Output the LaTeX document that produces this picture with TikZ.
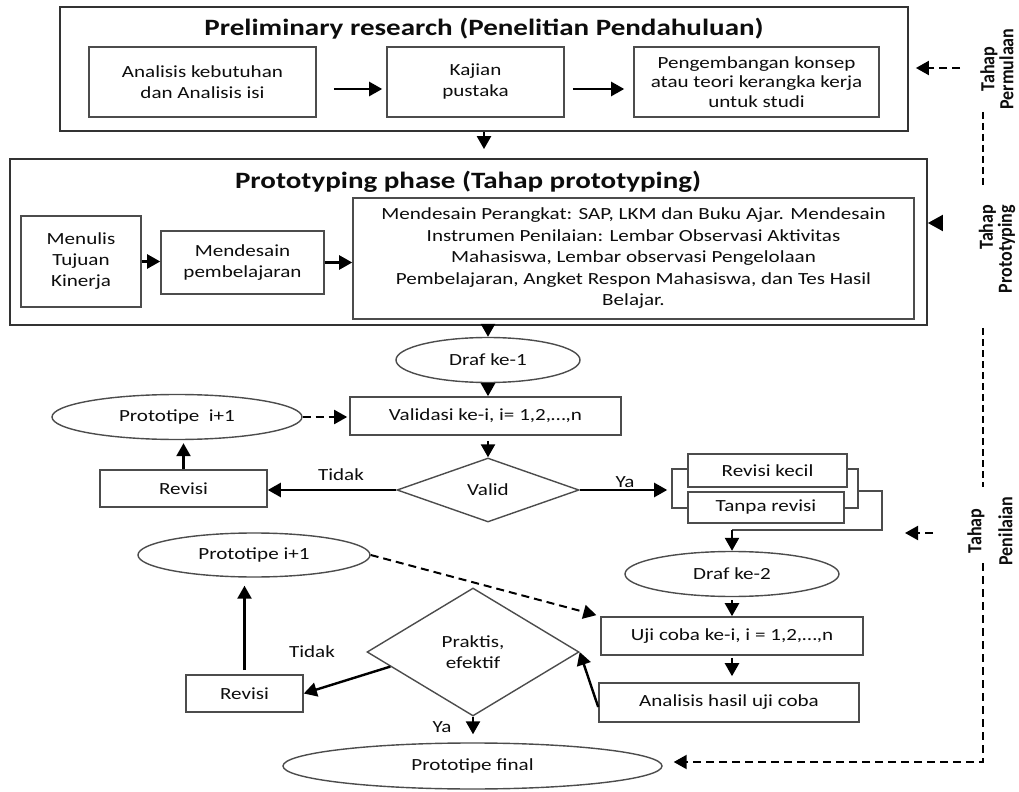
\documentclass[tikz,border=0pt]{standalone}
\usepackage{fontspec}
\setmainfont{Carlito}[FakeStretch=1.24]
\newfontfamily\sidefont{Carlito}[FakeStretch=0.9]
\usepackage{tikz}
\usetikzlibrary{arrows.meta,shapes.geometric}

\tikzset{
  every node/.style={font=\fontsize{8.5}{10.5}\selectfont, text=black!95},
  phase/.style={draw=black!80, line width=0.9pt, inner sep=0pt},
  title/.style={font=\fontsize{11.7}{13}\selectfont\bfseries},
  box/.style={draw=black!70, line width=0.8pt, fill=white, inner sep=0pt, align=center},
  oval/.style={ellipse, draw=black!70, line width=0.7pt, inner sep=0pt},
  decide/.style={diamond, draw=black!70, line width=0.7pt, inner sep=0pt, align=center},
  arr/.style={-{Triangle[length=6.5pt,width=7pt]}, line width=1.2pt},
  dasharr/.style={arr, dash pattern=on 4pt off 2.5pt, line width=1pt},
  sideline/.style={dash pattern=on 3.5pt off 2pt, line width=1pt},
  side/.style={rotate=90, align=center, font=\sidefont\bfseries\fontsize{10}{9.5}\selectfont}
}

\begin{document}
\begin{tikzpicture}[x=0.5pt,y=-0.5pt]

\useasboundingbox (0,0) rectangle (1019,792);

% preliminary research
\node[phase, minimum width=424pt, minimum height=62pt] (prelim) at (484,69) {};
\node[title] (prelimT) at (484,29) {Preliminary research (Penelitian Pendahuluan)};
\node[box, minimum width=113.5pt, minimum height=35pt] (analisis) at (202.5,82) {Analisis kebutuhan\\dan Analisis isi};
\node[box, minimum width=88.5pt, minimum height=35pt] (kajian) at (475.5,82) {Kajian\\pustaka};
\node[box, minimum width=122.5pt, minimum height=35pt, font=\fontsize{8.5}{9.75}\selectfont] (konsep) at (756.5,82) {Pengembangan konsep\\atau teori kerangka kerja\\untuk studi};

\draw[arr] ([shift={(17,7)}]analisis.east) -- ([shift={(-4,7)}]kajian.west);
\draw[arr] ([shift={(8,7)}]kajian.east) -- ([shift={(-9,7)}]konsep.west);

% prototyping phase
\node[phase, minimum width=458.5pt, minimum height=83pt] (protophase) at (468.5,242) {};
\node[title] (protoT) at (468,182) {Prototyping phase (Tahap prototyping)};
\node[box, minimum width=60pt, minimum height=45.5pt] (tujuan) at (81,261.5) {Menulis\\Tujuan\\Kinerja};
\node[box, minimum width=81.5pt, minimum height=31.5pt] (desain) at (242.5,262.5) {Mendesain\\pembelajaran};
\node[box, minimum width=280.5pt, minimum height=60.5pt, font=\fontsize{8.5}{10.75}\selectfont] (perangkat) at (633.5,258.5)
  {Mendesain Perangkat: SAP, LKM dan Buku Ajar. Mendesain\\Instrumen Penilaian: Lembar Observasi Aktivitas\\Mahasiswa, Lembar observasi Pengelolaan\\Pembelajaran, Angket Respon Mahasiswa, dan Tes Hasil\\Belajar.};

\draw[arr, shorten >=4.5pt] (prelim.south) -- (prelim.south |- protophase.north);
\draw[arr] (tujuan.east) -- (tujuan.east -| desain.west);
\draw[arr] (desain.east) -- (desain.east -| perangkat.west);

% validasi
\node[oval, minimum width=92pt, minimum height=22.5pt] (draf1) at (488,360) {Draf ke-1};
\node[box, minimum width=135.5pt, minimum height=19pt] (validasi) at (485.5,416) {Validasi ke-i, i= 1,2,…,n};
\node[decide, minimum width=91pt, minimum height=32pt] (valid) at (488,490) {Valid};
\node[box, minimum width=83.5pt, minimum height=18.5pt] (revisi1) at (183.5,488.5) {Revisi};
\node[oval, minimum width=125pt, minimum height=22.5pt] (next1) at (177,417) {Prototipe~~i+1};
\node[box, minimum width=93pt, minimum height=19.5pt] (stack) at (765,488.5) {};
\node[box, minimum width=79.5pt, minimum height=16.5pt] (kecil) at (767.5,470.5) {Revisi kecil};
\node[box, minimum width=78pt, minimum height=15.5pt] (tanpa) at (766,507.5) {Tanpa revisi};
\coordinate (stackB) at (882,530);

\draw[arr] (draf1.north |- protophase.south) -- (draf1.north);
\draw[arr] (draf1.south) -- (draf1.south |- validasi.north);
\draw[arr, shorten <=2.5pt] (valid.north |- validasi.south) -- (valid.north);
\draw[arr] (valid.west) -- (valid.west -| revisi1.east);
\node (tidak1) at (341,475) {Tidak};
\draw[arr, shorten >=1.5pt] (revisi1.north) -- (revisi1.north |- next1.south);
\draw[dasharr, shorten >=1pt] (next1.east) -- (next1.east -| validasi.west);
\draw[arr, shorten >=2pt] (valid.east) -- (valid.east -| stack.west);
\node (ya1) at (625,482) {Ya};
\draw[draw=black!70, line width=0.8pt] (stack.north east |- tanpa.north) -| (stackB) -- (stackB -| 732,0);

% uji coba
\node[oval, minimum width=107pt, minimum height=22.5pt] (draf2) at (732,574) {Draf ke-2};
\node[box, minimum width=131pt, minimum height=19pt] (uji) at (732,636) {Uji coba ke-i, i = 1,2,…,n};
\node[box, minimum width=130pt, minimum height=19.5pt] (hasil) at (729,702.5) {Analisis hasil uji coba};
\node[decide, minimum width=106pt, minimum height=64pt] (praktis) at (473,652) {Praktis,\\efektif};
\node[box, minimum width=58.5pt, minimum height=18.5pt] (revisi2) at (244.5,693.5) {Revisi};
\node[oval, minimum width=116pt, minimum height=22pt] (next2) at (254,555) {Prototipe i+1};
\node[oval, minimum width=189.5pt, minimum height=23pt] (final) at (472.5,766) {Prototipe final};

\draw[arr] (stackB -| draf2.north) -- (draf2.north);
\draw[arr, shorten <=1.5pt] (draf2.south) -- (draf2.south |- uji.north);
\draw[arr, shorten <=1pt, shorten >=3pt] (uji.south) -- (uji.south |- hasil.north);
\draw[arr] ([shift={(0,4.5)}]hasil.west) -- (praktis.east);
\draw[arr] (praktis.190) -- (revisi2.east);
\node (tidak2) at (312,652) {Tidak};
\draw[arr, shorten <=2pt, shorten >=4pt] (revisi2.north) -- (revisi2.north |- next2.south);
\draw[dasharr, shorten >=2pt] (next2.east) -- (uji.north west);
\draw[arr, shorten >=4pt] (praktis.south) -- (praktis.south |- final.north);
\node (ya2) at (442,727) {Ya};

% tahap di sisi kanan
\node[side] (permulaan) at (997,69) {Tahap\\Permulaan};
\node[side, align=right] (prototyping) at (997,249) {Tahap\\Prototyping};
\node[side] (penilaian) at (990,531) {Tahap\\[6pt]Penilaian};

\coordinate (perm) at (960,68);
\coordinate (protoarr) at (943,223);
\coordinate (nilai) at (933,533);
\coordinate (nilaitip) at (905,533);
\coordinate (line1a) at (983,112);
\coordinate (line1b) at (983,185);
\coordinate (line2a) at (983,328);
\coordinate (line2b) at (983,487);
\coordinate (line3a) at (983,563);

\draw[dasharr, shorten >=3.5pt] (perm) -- (perm -| prelim.east);
\draw[-{Triangle[length=7.5pt,width=8pt]}, line width=1pt] (protoarr) -- (protoarr -| protophase.east);
\draw[dasharr] (nilai) -- (nilaitip);
\draw[sideline] (line1a) -- (line1b);
\draw[sideline] (line2a) -- (line2b);
\draw[dasharr, shorten >=5.5pt] (line3a) |- ([shift={(0,-4)}]final.east);

\end{tikzpicture}
\end{document}
